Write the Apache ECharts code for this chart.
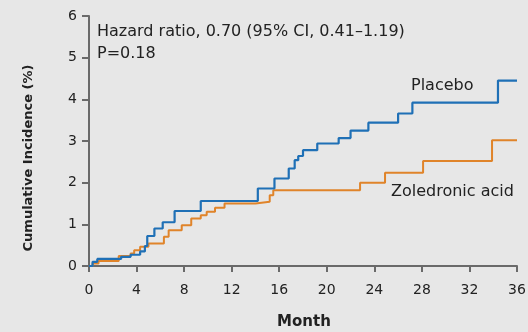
<!DOCTYPE html>
<html><head><meta charset="utf-8">
<script src="https://cdn.jsdelivr.net/npm/echarts@6/dist/echarts.min.js"></script>
<style>html,body{margin:0;padding:0;background:#e7e7e7;}#c{width:528px;height:332px;}</style>
</head><body><div id="c"></div>
<script>
// Placebo step data: [month, cumulative incidence %]
const placeboMonths = [0, 0.3, 0.7, 2.7, 3.5, 4.3, 4.7, 4.9, 5.5, 6.2, 7.2, 9.4, 14.2, 15.6, 16.8, 17.3, 17.6, 18.0, 19.2, 21.0, 22.0, 23.5, 26.0, 27.2, 34.4, 36];
const placeboValues = [0, 0.10, 0.17, 0.22, 0.27, 0.35, 0.48, 0.72, 0.90, 1.05, 1.32, 1.56, 1.86, 2.10, 2.34, 2.54, 2.64, 2.78, 2.94, 3.07, 3.25, 3.44, 3.66, 3.92, 4.45, 4.45];
// Zoledronic acid step data
const zolMonths = [0, 0.3, 0.8, 2.5, 3.5, 3.8, 4.3, 5.0, 6.3, 6.7, 7.8, 8.6, 9.4, 9.9, 10.6, 11.4, 14.0, 15.2, 15.5, 22.8, 24.9, 28.1, 33.9, 36];
const zolValues = [0, 0.06, 0.12, 0.24, 0.30, 0.38, 0.46, 0.54, 0.70, 0.86, 0.98, 1.14, 1.22, 1.30, 1.40, 1.50, 1.54, 1.70, 1.82, 2.00, 2.24, 2.52, 3.02, 3.02];
const xTicks = [0, 4, 8, 12, 16, 20, 24, 28, 32, 36];
const yTicks = [0, 1, 2, 3, 4, 5, 6];
const annotation1 = 'Hazard ratio, 0.70 (95% CI, 0.41\u20131.19)';
const annotation2 = 'P=0.18';
const yTitle = 'Cumulative Incidence (%)';
const xTitle = 'Month';

const chart = echarts.init(document.getElementById('c'), null, {renderer: 'canvas'});
const font = "'DejaVu Sans', sans-serif";
const axisCol = '#6a6a6a';
chart.setOption({
  backgroundColor: '#e7e7e7',
  animation: false,
  textStyle: {fontFamily: font},
  grid: {left: 89, right: 11, top: 16, bottom: 66, containLabel: false, outerBoundsMode: 'none'},
  xAxis: {
    type: 'value', min: xTicks[0], max: xTicks[xTicks.length-1], interval: 4,
    axisLine: {show: true, lineStyle: {color: axisCol, width: 2}},
    axisTick: {show: true, length: 6, lineStyle: {color: axisCol, width: 2}},
    axisLabel: {fontSize: 14, color: '#222', margin: 17, fontFamily: font},
    splitLine: {show: false}
  },
  yAxis: {
    type: 'value', min: yTicks[0], max: yTicks[yTicks.length-1], interval: 1,
    axisLine: {show: true, lineStyle: {color: axisCol, width: 2}},
    axisTick: {show: true, length: 7, lineStyle: {color: axisCol, width: 2}},
    axisLabel: {fontSize: 14, color: '#222', margin: 12, fontFamily: font},
    splitLine: {show: false}
  },
  series: [
    {name: 'Zoledronic acid', type: 'line', step: 'end', symbol: 'none',
     lineStyle: {color: '#e0842a', width: 2}, data: zolMonths.map((m, i) => [m, zolValues[i]])},
    {name: 'Placebo', type: 'line', step: 'end', symbol: 'none',
     lineStyle: {color: '#1f70b6', width: 2.2}, data: placeboMonths.map((m, i) => [m, placeboValues[i]])}
  ],
  graphic: [
    {type: 'text', x: 29, y: 158, rotation: Math.PI / 2,
     style: {text: yTitle, fontSize: 13, fontWeight: 'bold', fill: '#222', fontFamily: font, align: 'center', verticalAlign: 'middle'}},
    {type: 'text', x: 304, y: 322,
     style: {text: xTitle, fontSize: 15, fontWeight: 'bold', fill: '#222', fontFamily: font, align: 'center', verticalAlign: 'middle'}},
    {type: 'text', left: 97, top: 24, style: {text: annotation1, fontSize: 16, fill: '#222', fontFamily: font}},
    {type: 'text', left: 97, top: 46, style: {text: annotation2, fontSize: 16, fill: '#222', fontFamily: font}},
    {type: 'text', left: 411, top: 78, style: {text: 'Placebo', fontSize: 16, fill: '#222', fontFamily: font}},
    {type: 'text', left: 391, top: 184, style: {text: 'Zoledronic acid', fontSize: 16, fill: '#222', fontFamily: font}}
  ]
});
</script></body></html>
